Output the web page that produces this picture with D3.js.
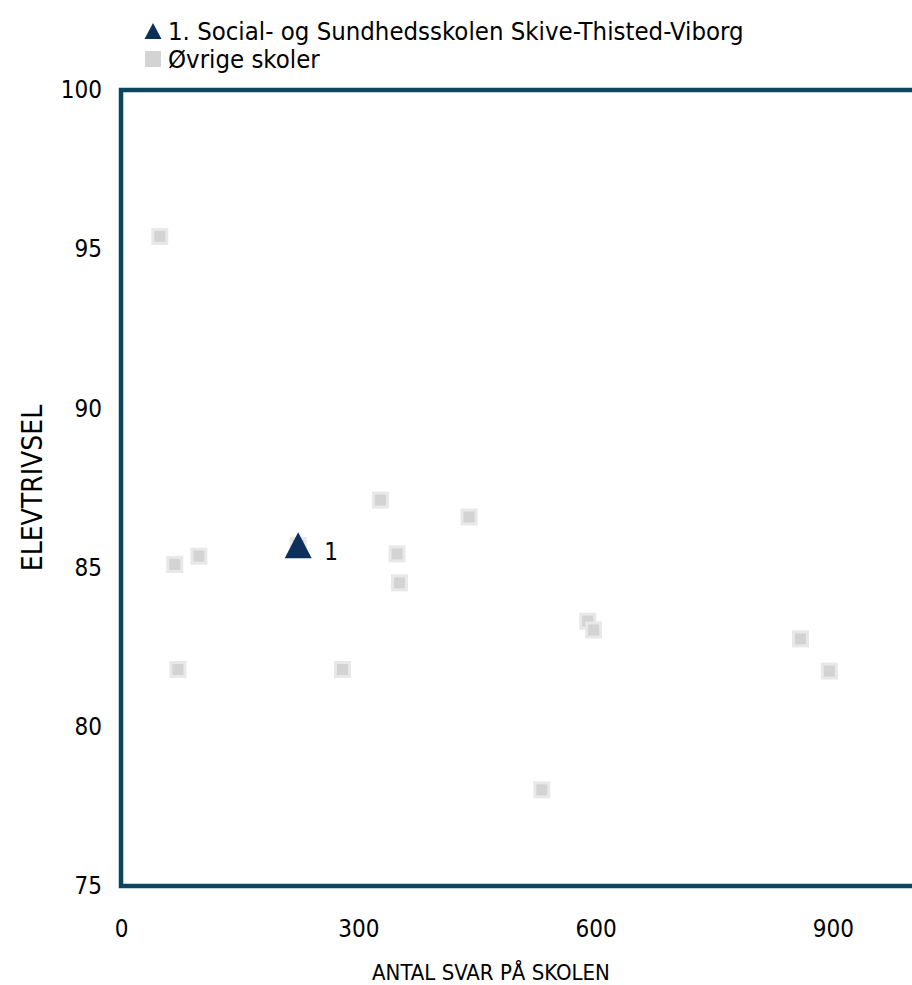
<!DOCTYPE html>
<html><head><meta charset="utf-8">
<script src="https://cdn.jsdelivr.net/npm/d3@7"></script>
<style>
html,body{margin:0;padding:0;background:#fff;}
text{font-family:"DejaVu Sans Condensed","DejaVu Sans",sans-serif;}
</style></head>
<body><svg id="c" width="912" height="985"></svg>
<script>
// Data
const otherX = [49, 68, 98.5, 72, 224, 280, 328, 349, 352, 440, 532, 590, 597.5, 859, 895.5];
const otherY = [95.4, 85.1, 85.36, 81.8, 85.7, 81.8, 87.12, 85.43, 84.52, 86.59, 78.02, 83.32, 83.04, 82.76, 81.75];
const focusX = [224];
const focusY = [85.7];
const focusLabels = ["1"];
const legendLabels = ["1. Social- og Sundhedsskolen Skive-Thisted-Viborg", "Øvrige skoler"];
const xTicks = [0, 300, 600, 900];
const yTicks = [75, 80, 85, 90, 95, 100];
const xTitle = "ANTAL SVAR PÅ SKOLEN";
const yTitle = "ELEVTRIVSEL";

const svg = d3.select("#c");
const L = 121, T = 90, B = 886, R = 912;
const x = d3.scaleLinear().domain([0, 1000]).range([L, R]);
const y = d3.scaleLinear().domain([75, 100]).range([B, T]);
const frameCol = "#0b4661", triCol = "#0c2f5b";
const ff = '"DejaVu Sans Condensed","DejaVu Sans",sans-serif';

// frame (right side off-canvas)
svg.append("path")
  .attr("d", `M${R + 20},${T}H${L}V${B}H${R + 20}`)
  .attr("fill", "none").attr("stroke", frameCol).attr("stroke-width", 4.5);

// y ticks
const yAxis = d3.axisLeft(y).tickValues(yTicks).tickSize(0).tickPadding(19);
const gy = svg.append("g").attr("transform", `translate(${L},0)`).call(yAxis);
gy.select(".domain").remove();
gy.selectAll("text").attr("font-size", 24).attr("fill", "#000").style("font-family", ff);

const xAxis = d3.axisBottom(x).tickValues(xTicks).tickSize(0).tickPadding(34);
const gx = svg.append("g").attr("transform", `translate(0,${B})`).call(xAxis);
gx.select(".domain").remove();
gx.selectAll("text").attr("font-size", 24).attr("fill", "#000").style("font-family", ff);

svg.append("text").attr("x", 491).attr("y", 980).attr("text-anchor", "middle")
  .attr("font-size", 22).text(xTitle);
svg.append("text").attr("transform", `translate(42,488) rotate(-90)`).attr("text-anchor", "middle")
  .attr("font-size", 28).text(yTitle);

// other points
const sq = 14;
svg.append("g").selectAll("rect").data(otherX.map((v, i) => [v, otherY[i]])).join("rect")
  .attr("x", d => x(d[0]) - sq / 2).attr("y", d => y(d[1]) - sq / 2)
  .attr("width", sq).attr("height", sq)
  .attr("fill", "#d3d3d4").attr("stroke", "#e8e8e9").attr("stroke-width", 3);

// focus triangle
const tw = 27, th = 26;
const fg = svg.append("g");
fg.selectAll("path").data(focusX.map((v, i) => [v, focusY[i]])).join("path")
  .attr("d", d => {
    const cx = x(d[0]), cy = y(d[1]);
    return `M${cx},${cy - th / 2}L${cx + tw / 2},${cy + th / 2}L${cx - tw / 2},${cy + th / 2}Z`;
  }).attr("fill", triCol);
fg.selectAll("text").data(focusX.map((v, i) => [v, focusY[i], focusLabels[i]])).join("text")
  .attr("x", d => x(d[0]) + 26).attr("y", d => y(d[1]) + 15)
  .attr("font-size", 24).text(d => d[2]);

// legend
const lg = svg.append("g");
lg.append("path").attr("d", "M153,23L161.5,39H144.5Z").attr("fill", triCol);
lg.append("rect").attr("x", 145).attr("y", 51).attr("width", 16).attr("height", 16).attr("fill", "#d3d3d4");
lg.selectAll("text").data(legendLabels).join("text")
  .attr("x", 168).attr("y", (d, i) => 40 + i * 28)
  .attr("font-size", 25.5).text(d => d);
</script></body></html>
